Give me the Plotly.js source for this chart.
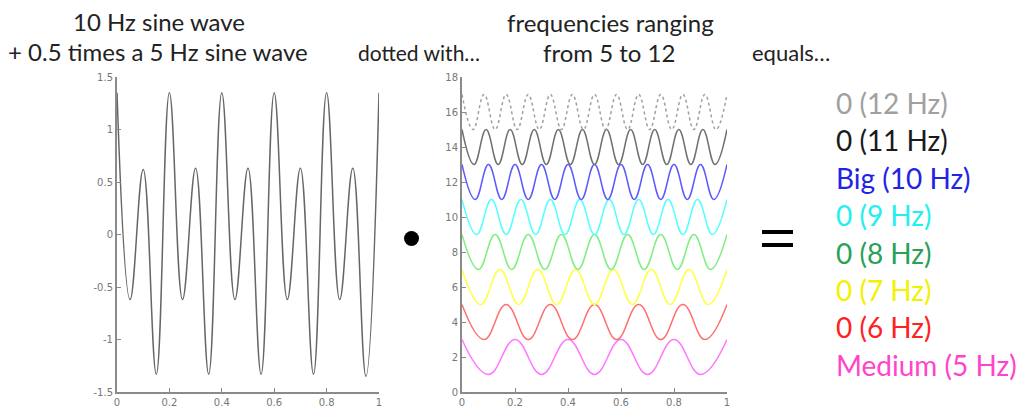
<!DOCTYPE html>
<html>
<head>
<meta charset="utf-8">
<script src="https://cdn.plot.ly/plotly-3.0.1.min.js"></script>
<style>html,body{margin:0;padding:0;background:#fff;}#chart{width:1026px;height:408px;}</style>
</head>
<body>
<div id="chart"></div>
<script>
// Left panel: 10 Hz + 0.5 x 5 Hz wave, values at successive extremes (x from 0 to 1)
const mixedWave = [1.35, -0.62, 0.62, -1.33, 1.35, -0.62, 0.63, -1.33, 1.35, -0.62, 0.63,
                   -1.33, 1.35, -0.62, 0.63, -1.33, 1.35, -0.62, 0.63, -1.35, 1.35];

// Right panel: stacked waves, values at successive extremes (x from 0 to 1)
const hz5  = [3,1,3,1,3,1,3,1,3,1,3];
const hz6  = [5,3,5,3,5,3,5,3,5,3,5,3,5];
const hz7  = [7,5,7,5,7,5,7,5,7,5,7,5,7,5,7];
const hz8  = [9,7,9,7,9,7,9,7,9,7,9,7,9,7,9,7,9];
const hz9  = [11,9,11,9,11,9,11,9,11,9,11,9,11,9,11,9,11,9,11];
const hz10 = [13,11,13,11,13,11,13,11,13,11,13,11,13,11,13,11,13,11,13,11,13];
const hz11 = [15,13,15,13,15,13,15,13,15,13,15,13,15,13,15,13,15,13,15,13,15,13,15];
const hz12 = [17,15,17,15,17,15,17,15,17,15,17,15,17,15,17,15,17,15,17,15,17,15,17,15,17];

const waveSets = [hz5, hz6, hz7, hz8, hz9, hz10, hz11, hz12];
const waveColors = ['#ff77ff', '#ff6f6f', '#ffff44', '#80ee80', '#55ffff', '#5a5aff', '#707070', '#a0a0a0'];
const waveDash = ['solid','solid','solid','solid','solid','solid','solid','dot'];

const resultLabels = ['0 (12 Hz)', '0 (11 Hz)', 'Big (10 Hz)', '0 (9 Hz)', '0 (8 Hz)', '0 (7 Hz)', '0 (6 Hz)', 'Medium (5 Hz)'];
const resultColors = ['#a0a0a0', '#1a1a1a', '#2323e6', '#22f0f0', '#2aa058', '#f2f200', '#ff2222', '#ff44cc'];

const leftTicks = [-1.5, -1, -0.5, 0, 0.5, 1, 1.5];
const rightTicks = [0, 2, 4, 6, 8, 10, 12, 14, 16, 18];
const xTicks = [0, 0.2, 0.4, 0.6, 0.8, 1];

function evenX(n) { const a = []; for (let i = 0; i < n; i++) a.push(i / (n - 1)); return a; }

const traces = [];
traces.push({
  x: evenX(mixedWave.length), y: mixedWave, type: 'scatter', mode: 'lines',
  line: {color: '#666666', width: 1.5, shape: 'spline', smoothing: 1.2},
  xaxis: 'x', yaxis: 'y', hoverinfo: 'skip'
});
waveSets.forEach((w, i) => {
  traces.push({
    x: evenX(w.length), y: w, type: 'scatter', mode: 'lines',
    line: {color: waveColors[i], width: 1.5, shape: 'spline', smoothing: 1.2, dash: waveDash[i]},
    xaxis: 'x2', yaxis: 'y2', hoverinfo: 'skip'
  });
});

const W = 1026, H = 408;
const px = x => x / W, py = y => 1 - y / H;

const axisCommon = {
  showline: true, linecolor: '#8a8a8a', linewidth: 2, ticks: 'inside', ticklen: 4,
  tickcolor: '#8a8a8a', tickwidth: 1, showgrid: false, zeroline: false,
  tickfont: {family: 'DejaVu Sans', size: 10, color: '#777777'}, fixedrange: true
};

const ann = [];
function txt(t, x, y, size, color, xanchor) {
  ann.push({text: t, x: px(x), y: py(y), xref: 'paper', yref: 'paper', showarrow: false,
            xanchor: xanchor || 'center', yanchor: 'middle',
            font: {family: 'Lato', size: size, color: color || '#222222'}});
}
const titleSize = 24;
txt('10 Hz sine wave', 159, 21, titleSize);
txt('+ 0.5 times a 5 Hz sine wave', 158, 51, titleSize);
txt('dotted with…', 419, 53, 21);
txt('frequencies ranging', 610, 22, titleSize);
txt('from 5 to 12', 609, 52, titleSize);
txt('equals…', 791, 53, 22);
resultLabels.forEach((t, i) => {
  txt(t, 834, 103 + i * 37.4, 28, resultColors[i], 'left');
});

const layout = {
  width: W, height: H, margin: {l: 0, r: 0, t: 0, b: 0},
  paper_bgcolor: '#ffffff', plot_bgcolor: '#ffffff', showlegend: false,
  xaxis: Object.assign({}, axisCommon, {domain: [px(117), px(379)], range: [0, 1], tickvals: xTicks, ticktext: xTicks.map(String), anchor: 'y'}),
  yaxis: Object.assign({}, axisCommon, {domain: [py(392), py(77)], range: [-1.5, 1.5], tickvals: leftTicks, ticktext: leftTicks.map(String), anchor: 'x'}),
  xaxis2: Object.assign({}, axisCommon, {domain: [px(462), px(727)], range: [0, 1], tickvals: xTicks, ticktext: xTicks.map(String), anchor: 'y2'}),
  yaxis2: Object.assign({}, axisCommon, {domain: [py(392), py(77)], range: [0, 18], tickvals: rightTicks, ticktext: rightTicks.map(String), anchor: 'x2'}),
  annotations: ann,
  shapes: [
    {type: 'circle', xref: 'paper', yref: 'paper', x0: px(404), x1: px(419), y0: py(246), y1: py(231), fillcolor: '#000000', line: {width: 0}},
    {type: 'rect', xref: 'paper', yref: 'paper', x0: px(762), x1: px(793), y0: py(234), y1: py(230), fillcolor: '#000000', line: {width: 0}},
    {type: 'rect', xref: 'paper', yref: 'paper', x0: px(762), x1: px(793), y0: py(247), y1: py(243), fillcolor: '#000000', line: {width: 0}}
  ]
};

Plotly.newPlot('chart', traces, layout, {displayModeBar: false, staticPlot: true});
</script>
</body>
</html>
